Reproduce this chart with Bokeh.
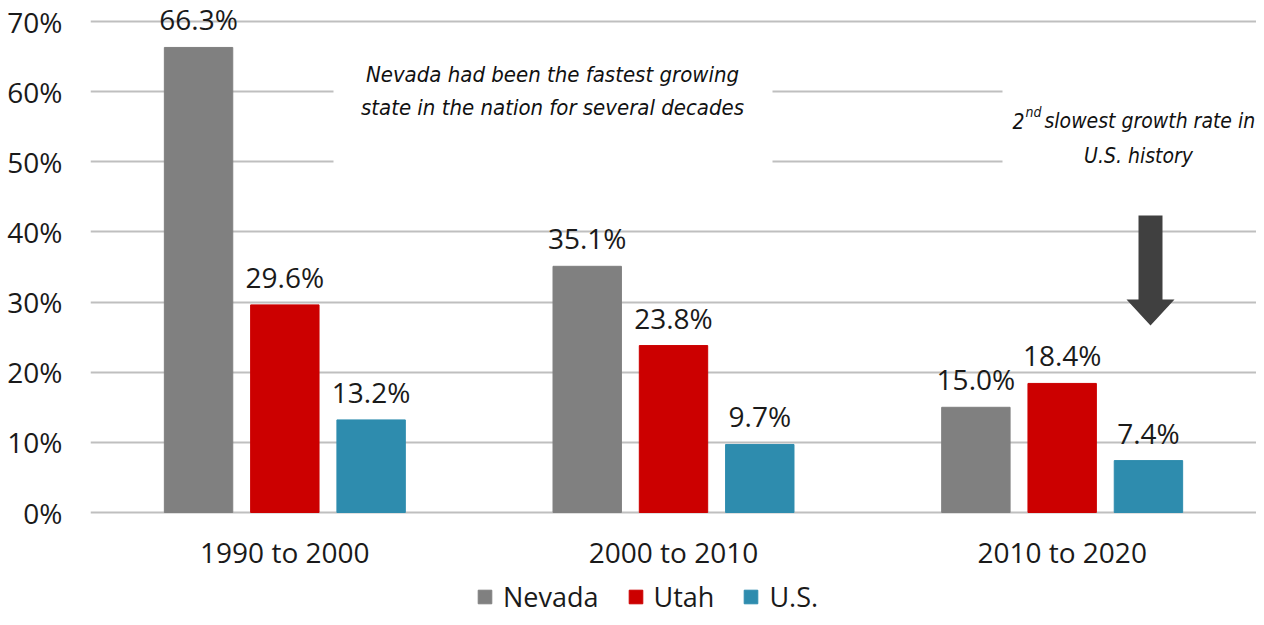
from bokeh.plotting import figure
from bokeh.models import (ColumnDataSource, FactorRange, Range1d, FixedTicker, PrintfTickFormatter,
                          LabelSet, Label, BoxAnnotation, PolyAnnotation, Legend, LegendItem)
from bokeh.transform import dodge
from bokeh.embed import file_html
from bokeh.resources import INLINE
from bokeh.core.properties import value

# ---- data ----
periods = ["1990 to 2000", "2000 to 2010", "2010 to 2020"]
nevada = [66.3, 35.1, 15.0]
utah = [29.6, 23.8, 18.4]
us = [13.2, 9.7, 7.4]
series_names = ["Nevada", "Utah", "U.S."]
y_ticks = [0, 10, 20, 30, 40, 50, 60, 70]

FONT = "Open Sans"
NARROW = "DejaVu Sans Condensed"
COLORS = ["#808080", "#CC0000", "#2E8CAE"]
OFFSETS = [-0.222, 0.0, 0.222]
BAR_W = 0.176
TXT = "#1a1a1a"

W, H = 1256, 617
LEFT = 90
FRAME_W = W - LEFT
CAT_W = FRAME_W / 3.0
Y0_PX, Y70_PX = 512, 21
PX_PER_UNIT = (Y0_PX - Y70_PX) / 70.0

src = ColumnDataSource(dict(
    period=periods, nevada=nevada, utah=utah, us=us,
    nevada_lbl=[f"{v:.1f}%" for v in nevada],
    utah_lbl=[f"{v:.1f}%" for v in utah],
    us_lbl=[f"{v:.1f}%" for v in us],
))

y_end = 70 + Y70_PX / PX_PER_UNIT
y_start = -(H - Y0_PX) / PX_PER_UNIT

p = figure(x_range=FactorRange(*periods, range_padding=0), y_range=Range1d(y_start, y_end),
           width=W, height=H, x_axis_location=None,
           min_border_left=LEFT, min_border_right=0, min_border_top=0, min_border_bottom=0,
           output_backend="svg", toolbar_location=None)
p.outline_line_color = None
p.background_fill_color = "white"
p.xgrid.visible = False

# grid / y axis
p.ygrid.ticker = FixedTicker(ticks=y_ticks)
p.ygrid.grid_line_color = "#BFBFBF"
p.ygrid.grid_line_width = 2

p.yaxis.ticker = FixedTicker(ticks=y_ticks)
p.yaxis.formatter = PrintfTickFormatter(format="%d%%")
p.yaxis.axis_line_color = None
p.yaxis.major_tick_line_color = None
p.yaxis.minor_tick_line_color = None
p.yaxis.major_label_text_font = FONT
p.yaxis.major_label_text_color = TXT
p.yaxis.major_label_text_font_size = "28px"
p.yaxis.major_label_standoff = 22

# bars
cols = ["nevada", "utah", "us"]
renderers = []
for col, off, color in zip(cols, OFFSETS, COLORS):
    r = p.vbar(x=dodge("period", off, range=p.x_range), top=col, width=BAR_W, source=src,
               fill_color=color, line_color=color)
    renderers.append(r)

# category labels under the baseline
p.add_layout(LabelSet(x="period", y=0, text="period", source=src, text_align="center",
                      text_baseline="alphabetic", y_offset=-50, text_font=value(FONT),
                      text_font_size="28px", text_color=TXT))

# pixel -> data helpers for annotations
def rx(px):
    return (px - LEFT) / CAT_W

def ry(py):
    return (Y0_PX - py) / PX_PER_UNIT

# white boxes behind annotation text
p.add_layout(BoxAnnotation(left=rx(333), right=rx(772), bottom=43, top=66,
                           fill_color="white", fill_alpha=1, line_color=None))
p.add_layout(BoxAnnotation(left=rx(1002), right=3.2, bottom=43, top=66,
                           fill_color="white", fill_alpha=1, line_color=None))

# value labels
for col, off in zip(cols, OFFSETS):
    p.add_layout(LabelSet(x=dodge("period", off, range=p.x_range), y=col, text=col + "_lbl",
                          source=src, text_align="center", text_baseline="alphabetic",
                          y_offset=17, text_font=value(FONT), text_font_size="28px",
                          text_color=TXT))

# annotation 1
for txt, py in [("Nevada had been the fastest growing", 74),
                ("state in the nation for several decades", 107)]:
    p.add_layout(Label(x=rx(552), y=ry(py), text=txt, text_align="center",
                       text_baseline="alphabetic", text_font=NARROW, text_font_style="italic",
                       text_font_size="22px", text_color="#111111"))

# annotation 2
p.add_layout(Label(x=rx(1012), y=ry(120), text="2", text_align="left", text_baseline="alphabetic",
                   text_font=NARROW, text_font_style="italic", text_font_size="21px", text_color="#111111"))
p.add_layout(Label(x=rx(1025), y=ry(111), text="nd", text_align="left", text_baseline="alphabetic",
                   text_font=NARROW, text_font_style="italic", text_font_size="14px", text_color="#111111"))
p.add_layout(Label(x=rx(1044), y=ry(120), text="slowest growth rate in", text_align="left",
                   text_baseline="alphabetic", text_font=NARROW, text_font_style="italic",
                   text_font_size="21px", text_color="#111111"))
p.add_layout(Label(x=rx(1138), y=ry(155), text="U.S. history", text_align="center",
                   text_baseline="alphabetic", text_font=NARROW, text_font_style="italic",
                   text_font_size="21px", text_color="#111111"))

# arrow
arrow_px = [(1138, 215), (1162, 215), (1162, 299), (1174, 299), (1150, 325), (1126, 299), (1138, 299)]
p.add_layout(PolyAnnotation(xs=[rx(a) for a, b in arrow_px], ys=[ry(b) for a, b in arrow_px],
                            fill_color="#404040", fill_alpha=1, line_color=None))

# legend (inside the frame, near its bottom)
legend = Legend(items=[LegendItem(label=n, renderers=[r]) for n, r in zip(series_names, renderers)],
                orientation="horizontal", location=(386, 2), padding=0, margin=0,
                border_line_color=None, background_fill_alpha=0,
                glyph_width=17, glyph_height=17, label_standoff=10, spacing=28,
                label_text_font=FONT, label_text_font_size="27px", label_text_color=TXT)
p.add_layout(legend)

open("out.html", "w").write(file_html(p, INLINE))
